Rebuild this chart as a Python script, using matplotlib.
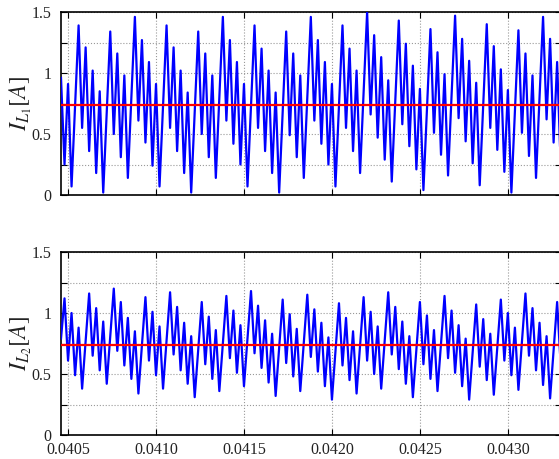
import numpy as np
import matplotlib
matplotlib.use('Agg')
from matplotlib import pyplot as plt

# time axis: samples every 20 us
t_start = 0.04046
dt = 2e-5

# inductor current 1 (A)
il1 = [0.96, 0.25, 0.91, 0.07, 0.73, 1.39, 0.55, 1.21, 0.36, 1.02,
       0.18, 0.85, 0.02, 0.68, 1.34, 0.50, 1.16, 0.31, 0.98, 0.14,
       0.80, 1.46, 0.61, 1.27, 0.43, 1.09, 0.24, 0.91, 0.07, 0.73,
       1.39, 0.55, 1.21, 0.36, 1.02, 0.18, 0.84, 0.02, 0.68, 1.34,
       0.50, 1.16, 0.31, 0.98, 0.14, 0.80, 1.46, 0.61, 1.27, 0.42,
       1.09, 0.25, 0.91, 0.07, 0.73, 1.39, 0.55, 1.20, 0.36, 1.02,
       0.18, 0.84, 0.02, 0.68, 1.34, 0.49, 1.16, 0.31, 0.98, 0.14,
       0.80, 1.46, 0.61, 1.27, 0.42, 1.09, 0.25, 0.91, 0.07, 0.73,
       1.39, 0.55, 1.20, 0.36, 1.02, 0.18, 0.84, 1.50, 0.66, 1.31,
       0.47, 1.13, 0.29, 0.94, 0.11, 0.77, 1.43, 0.58, 1.24, 0.40,
       1.06, 0.21, 0.87, 0.04, 0.70, 1.36, 0.51, 1.17, 0.33, 0.99,
       0.16, 0.82, 1.47, 0.63, 1.28, 0.44, 1.10, 0.26, 0.92, 0.08,
       0.74, 1.40, 0.55, 1.22, 0.37, 1.03, 0.19, 0.86, 0.02, 0.69,
       1.35, 0.51, 1.16, 0.32, 0.98, 0.14, 0.80, 1.46, 0.62, 1.28,
       0.43, 1.09, 0.25]

# inductor current 2 (A)
il2 = [0.79, 1.12, 0.61, 1.00, 0.49, 0.88, 0.38, 0.77, 1.16, 0.65,
       1.04, 0.53, 0.93, 0.42, 0.81, 1.20, 0.69, 1.09, 0.57, 0.96,
       0.46, 0.85, 0.34, 0.74, 1.13, 0.61, 1.01, 0.49, 0.89, 0.38,
       0.78, 1.17, 0.66, 1.05, 0.53, 0.92, 0.42, 0.81, 0.31, 0.70,
       1.09, 0.58, 0.97, 0.46, 0.86, 0.36, 0.75, 1.14, 0.63, 1.02,
       0.51, 0.90, 0.40, 0.79, 1.18, 0.67, 1.06, 0.55, 0.94, 0.43,
       0.83, 0.32, 0.72, 1.11, 0.59, 0.99, 0.48, 0.87, 0.36, 0.76,
       1.15, 0.64, 1.03, 0.52, 0.92, 0.40, 0.80, 0.29, 0.69, 1.08,
       0.57, 0.96, 0.45, 0.85, 0.34, 0.74, 1.13, 0.61, 1.01, 0.50,
       0.89, 0.38, 0.78, 1.17, 0.66, 1.05, 0.54, 0.93, 0.42, 0.81,
       0.31, 0.70, 1.09, 0.58, 0.98, 0.46, 0.86, 0.36, 0.75, 1.14,
       0.63, 1.02, 0.51, 0.90, 0.40, 0.79, 0.29, 0.68, 1.07, 0.56,
       0.95, 0.45, 0.83, 0.33, 0.72, 1.11, 0.61, 1.00, 0.49, 0.88,
       0.37, 0.77, 1.16, 0.65, 1.04, 0.53, 0.92, 0.41, 0.81, 0.30,
       0.70, 1.09, 0.58]

il1_mean = 0.738
il2_mean = 0.738

x_ticks = [0.0405, 0.0410, 0.0415, 0.0420, 0.0425, 0.0430]
y_ticks = [0, 0.25, 0.5, 0.75, 1.0, 1.25, 1.5]
y_ticklabels = ['0', '', '0.5', '', '1', '', '1.5']

t1 = t_start + dt * np.arange(len(il1))
t2 = t_start + dt * np.arange(len(il2))

plt.rcParams['font.family'] = ['Liberation Serif', 'DejaVu Serif']
plt.rcParams['mathtext.fontset'] = 'stix'

fig = plt.figure(figsize=(5.59, 4.59), dpi=100)
W, H = 559.0, 459.0
ax1 = fig.add_axes([61 / W, 1 - 195 / H, 500 / W, 183 / H])
ax2 = fig.add_axes([61 / W, 1 - 435 / H, 500 / W, 183 / H])

data = [(ax1, t1, il1, il1_mean, r'$I_{L_1}[A]$'),
        (ax2, t2, il2, il2_mean, r'$I_{L_2}[A]$')]

for ax, t, y, m, lab in data:
    ax.plot(t, y, color='#0000ff', lw=1.6, zorder=3)
    ax.axhline(m, color='#ff0000', lw=1.6, zorder=4)
    ax.set_xlim(0.04046, 0.043302)
    ax.set_ylim(0, 1.5)
    ax.set_xticks(x_ticks)
    ax.set_yticks(y_ticks)
    ax.set_yticklabels(y_ticklabels)
    ax.grid(True, linestyle=':', color='#999999', lw=0.8)
    ax.tick_params(direction='in', top=True, right=True, length=4,
                   width=0.8, labelsize=11.5, colors='black',
                   labelcolor='#222222')
    ax.tick_params(axis='y', pad=7)
    ax.tick_params(axis='x', pad=5)
    for s in ax.spines.values():
        s.set_linewidth(1.2)
    ax.set_ylabel(lab, fontsize=17, color='#222222')
    ax.yaxis.set_label_coords(-0.054, 0.5)

ax1.set_xticklabels([])
ax2.set_xticklabels(['%.4f' % v for v in x_ticks])

fig.savefig('out.png', dpi=100)
